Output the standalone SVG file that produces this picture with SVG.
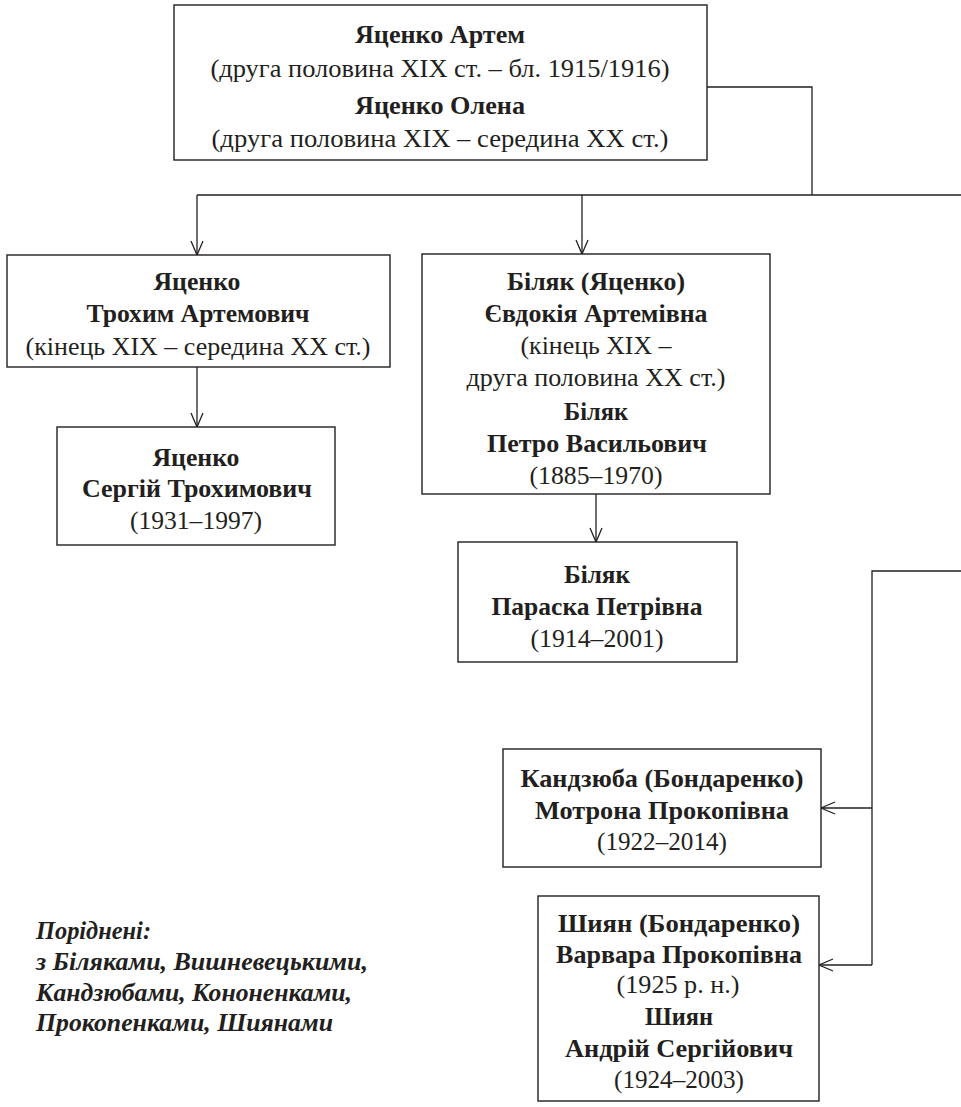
<svg xmlns="http://www.w3.org/2000/svg" width="961" height="1107" viewBox="0 0 961 1107">
<style>
.box{fill:#fff;stroke:#231f20;stroke-width:1.4}
.ln{fill:none;stroke:#231f20;stroke-width:1.3}
.t text{font-family:'Liberation Serif','Times New Roman','DejaVu Serif',serif;font-size:25px;fill:#231f20;text-anchor:middle}
.t .b{font-weight:bold}
.t .it{font-style:italic;font-weight:bold;text-anchor:start}
</style>
<defs>
<marker id="arr" viewBox="0 0 16 14" refX="15" refY="7" markerWidth="16" markerHeight="14" markerUnits="userSpaceOnUse" orient="auto">
<path d="M1,1 L15,7 L1,13" fill="none" stroke="#231f20" stroke-width="1.3"/>
</marker>
</defs>
<g id="connectors">
<polyline class="ln" points="707,87 812,87 812,195"/>
<line class="ln" x1="197" y1="195" x2="961" y2="195"/>
<line class="ln" x1="197" y1="195" x2="197" y2="255" marker-end="url(#arr)"/>
<line class="ln" x1="582" y1="195" x2="582" y2="254" marker-end="url(#arr)"/>
<line class="ln" x1="197" y1="367" x2="197" y2="427" marker-end="url(#arr)"/>
<line class="ln" x1="596" y1="494" x2="596" y2="542" marker-end="url(#arr)"/>
<polyline class="ln" points="961,571 872,571 872,965"/>
<line class="ln" x1="872" y1="808" x2="821" y2="808" marker-end="url(#arr)"/>
<line class="ln" x1="872" y1="965" x2="819" y2="965" marker-end="url(#arr)"/>
</g>
<g id="n-artem" class="t">
<rect class="box" x="174" y="5" width="533" height="155"/>
<text class="b" x="440" y="43" textLength="170" lengthAdjust="spacingAndGlyphs">Яценко Артем</text>
<text x="440" y="77" textLength="459" lengthAdjust="spacingAndGlyphs">(друга половина XIX ст. – бл. 1915/1916)</text>
<text class="b" x="440" y="114" textLength="170" lengthAdjust="spacingAndGlyphs">Яценко Олена</text>
<text x="440" y="147" textLength="457" lengthAdjust="spacingAndGlyphs">(друга половина XIX – середина XX ст.)</text>
</g>
<g id="n-trokhym" class="t">
<rect class="box" x="7" y="255" width="383" height="112"/>
<text class="b" x="197" y="290" textLength="87" lengthAdjust="spacingAndGlyphs">Яценко</text>
<text class="b" x="198" y="322" textLength="223" lengthAdjust="spacingAndGlyphs">Трохим Артемович</text>
<text x="198" y="355" textLength="345" lengthAdjust="spacingAndGlyphs">(кінець XIX – середина XX ст.)</text>
</g>
<g id="n-serhii" class="t">
<rect class="box" x="57" y="427" width="278" height="118"/>
<text class="b" x="196" y="466" textLength="87" lengthAdjust="spacingAndGlyphs">Яценко</text>
<text class="b" x="197" y="497" textLength="230" lengthAdjust="spacingAndGlyphs">Сергій Трохимович</text>
<text x="196" y="529" textLength="132" lengthAdjust="spacingAndGlyphs">(1931–1997)</text>
</g>
<g id="n-yevdokiia" class="t">
<rect class="box" x="422" y="254" width="348" height="240"/>
<text class="b" x="596" y="290" textLength="178" lengthAdjust="spacingAndGlyphs">Біляк (Яценко)</text>
<text class="b" x="596" y="322" textLength="223" lengthAdjust="spacingAndGlyphs">Євдокія Артемівна</text>
<text x="596" y="354" textLength="151" lengthAdjust="spacingAndGlyphs">(кінець XIX –</text>
<text x="596" y="386" textLength="259" lengthAdjust="spacingAndGlyphs">друга половина XX ст.)</text>
<text class="b" x="596" y="420" textLength="64" lengthAdjust="spacingAndGlyphs">Біляк</text>
<text class="b" x="597" y="452" textLength="220" lengthAdjust="spacingAndGlyphs">Петро Васильович</text>
<text x="596" y="484" textLength="133" lengthAdjust="spacingAndGlyphs">(1885–1970)</text>
</g>
<g id="n-paraska" class="t">
<rect class="box" x="458" y="542" width="279" height="120"/>
<text class="b" x="597" y="583" textLength="66" lengthAdjust="spacingAndGlyphs">Біляк</text>
<text class="b" x="597" y="615" textLength="211" lengthAdjust="spacingAndGlyphs">Параска Петрівна</text>
<text x="597" y="647" textLength="133" lengthAdjust="spacingAndGlyphs">(1914–2001)</text>
</g>
<g id="n-motrona" class="t">
<rect class="box" x="503" y="749" width="318" height="118"/>
<text class="b" x="662" y="787" textLength="283" lengthAdjust="spacingAndGlyphs">Кандзюба (Бондаренко)</text>
<text class="b" x="662" y="819" textLength="254" lengthAdjust="spacingAndGlyphs">Мотрона Прокопівна</text>
<text x="662" y="850" textLength="130" lengthAdjust="spacingAndGlyphs">(1922–2014)</text>
</g>
<g id="n-varvara" class="t">
<rect class="box" x="538" y="896" width="281" height="205"/>
<text class="b" x="679" y="932" textLength="242" lengthAdjust="spacingAndGlyphs">Шиян (Бондаренко)</text>
<text class="b" x="679" y="963" textLength="246" lengthAdjust="spacingAndGlyphs">Варвара Прокопівна</text>
<text x="678" y="993" textLength="123" lengthAdjust="spacingAndGlyphs">(1925 р. н.)</text>
<text class="b" x="679" y="1025" textLength="68" lengthAdjust="spacingAndGlyphs">Шиян</text>
<text class="b" x="679" y="1057" textLength="228" lengthAdjust="spacingAndGlyphs">Андрій Сергійович</text>
<text x="679" y="1088" textLength="130" lengthAdjust="spacingAndGlyphs">(1924–2003)</text>
</g>
<g id="note" class="t">
<text class="it" x="36" y="939" textLength="115" lengthAdjust="spacingAndGlyphs">Поріднені:</text>
<text class="it" x="36" y="970" textLength="332" lengthAdjust="spacingAndGlyphs">з Біляками, Вишневецькими,</text>
<text class="it" x="36" y="1001" textLength="316" lengthAdjust="spacingAndGlyphs">Кандзюбами, Кононенками,</text>
<text class="it" x="36" y="1031" textLength="297" lengthAdjust="spacingAndGlyphs">Прокопенками, Шиянами</text>
</g>
</svg>
